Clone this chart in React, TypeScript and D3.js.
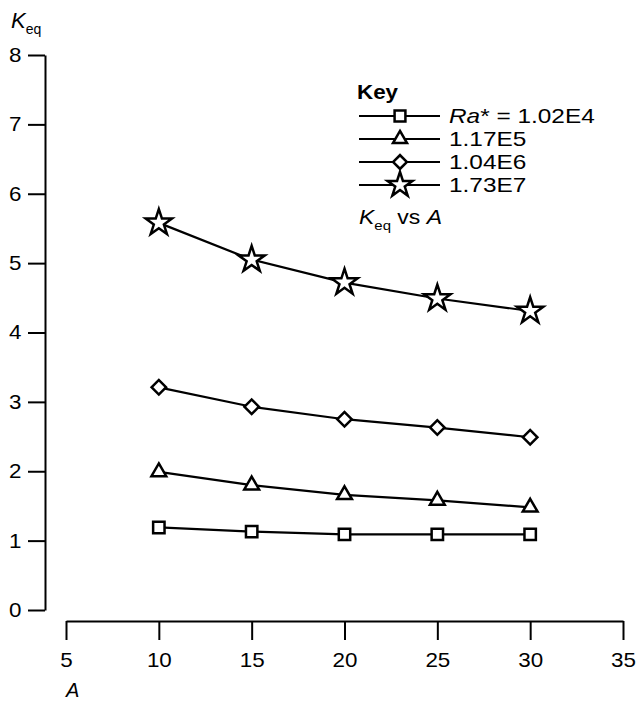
import { useEffect, useRef } from "react";
import * as d3 from "d3";

// A values on the x axis
const aValues = [10, 15, 20, 25, 30];

// Keq for each Ra*
const keqRa1 = [1.19, 1.13, 1.09, 1.09, 1.09];
const keqRa2 = [1.99, 1.8, 1.66, 1.58, 1.48];
const keqRa3 = [3.21, 2.93, 2.75, 2.63, 2.49];
const keqRa4 = [5.58, 5.05, 4.72, 4.49, 4.31];

const seriesNames = ["1.02E4", "1.17E5", "1.04E6", "1.73E7"];
const xTicks = [5, 10, 15, 20, 25, 30, 35];
const yTicks = [0, 1, 2, 3, 4, 5, 6, 7, 8];

const FONT = "'Liberation Sans', Arial, Helvetica, sans-serif";

export default function App() {
  const ref = useRef<SVGSVGElement>(null);

  useEffect(() => {
    const svg = d3.select(ref.current);
    svg.selectAll("*").remove();

    const x = d3.scaleLinear().domain([5, 35]).range([66, 623]);
    const y = d3.scaleLinear().domain([0, 8]).range([610, 55]);

    const series = [keqRa1, keqRa2, keqRa3, keqRa4].map((vals, i) => ({
      name: seriesNames[i],
      points: vals.map((v, j) => ({ a: aValues[j], k: v })),
    }));

    const markers = [
      { type: d3.symbolSquare, size: 130, rotate: 0 },
      { type: d3.symbolTriangle, size: 95, rotate: 0 },
      { type: d3.symbolSquare, size: 105, rotate: 45 },
      { type: d3.symbolStar, size: 215, rotate: 0 },
    ];

    // y axis
    const yAxis = svg
      .append("g")
      .attr("transform", "translate(45,0)")
      .call(d3.axisLeft(y).tickValues(yTicks).tickSize(17).tickSizeOuter(0).tickPadding(4));
    yAxis.select(".domain").attr("stroke-width", 2);
    yAxis.selectAll(".tick line").attr("stroke-width", 2);
    yAxis
      .selectAll("text")
      .attr("font-family", FONT)
      .attr("font-size", 20)
      .attr("fill", "#000")
      .attr("transform", "scale(1.12,1)");

    // x axis
    const xAxis = svg
      .append("g")
      .attr("transform", "translate(0,621)")
      .call(d3.axisBottom(x).tickValues(xTicks).tickSize(19).tickSizeOuter(0).tickPadding(13));
    xAxis.select(".domain").attr("stroke-width", 2);
    xAxis.selectAll(".tick line").attr("stroke-width", 2);
    xAxis
      .selectAll("text")
      .attr("font-family", FONT)
      .attr("font-size", 20)
      .attr("fill", "#000")
      .attr("transform", "scale(1.12,1)");

    // axis titles
    const yTitle = svg
      .append("text")
      .attr("x", 11)
      .attr("y", 28)
      .attr("font-family", FONT)
      .attr("font-size", 22);
    yTitle.append("tspan").attr("font-style", "italic").text("K");
    yTitle.append("tspan").attr("font-size", 14).attr("dy", 6).text("eq");

    svg
      .append("text")
      .attr("x", 66)
      .attr("y", 697)
      .attr("font-family", FONT)
      .attr("font-size", 20)
      .attr("font-style", "italic")
      .text("A");

    // lines
    const line = d3
      .line<{ a: number; k: number }>()
      .x((d) => x(d.a))
      .y((d) => y(d.k));

    series.forEach((s, i) => {
      svg
        .append("path")
        .datum(s.points)
        .attr("d", line)
        .attr("fill", "none")
        .attr("stroke", "#000")
        .attr("stroke-width", 2.2);

      svg
        .selectAll(null)
        .data(s.points)
        .join("path")
        .attr("d", d3.symbol(markers[i].type, markers[i].size)())
        .attr("transform", (d) => `translate(${x(d.a)},${y(d.k)}) rotate(${markers[i].rotate})`)
        .attr("fill", "#fff")
        .attr("stroke", "#000")
        .attr("stroke-width", 2.5);
    });

    // legend
    const legend = svg.append("g").attr("font-family", FONT);
    legend
      .append("text")
      .attr("transform", "translate(357,99) scale(1.12,1)")
      .attr("font-size", 20)
      .attr("font-weight", "bold")
      .text("Key");

    const rowY = d3.scalePoint<number>().domain([0, 1, 2, 3]).range([116, 185]);
    series.forEach((s, i) => {
      const yy = rowY(i) as number;
      legend
        .append("line")
        .attr("x1", 359)
        .attr("x2", 440)
        .attr("y1", yy)
        .attr("y2", yy)
        .attr("stroke", "#000")
        .attr("stroke-width", 2.2);
      legend
        .append("path")
        .attr("d", d3.symbol(markers[i].type, markers[i].size * 0.9)())
        .attr("transform", `translate(400,${yy}) rotate(${markers[i].rotate})`)
        .attr("fill", "#fff")
        .attr("stroke", "#000")
        .attr("stroke-width", 2.5);
      const t = legend
        .append("text")
        .attr("transform", `translate(449,${yy + 7}) scale(1.22,1)`)
        .attr("font-size", 20);
      if (i === 0) {
        t.append("tspan").attr("font-style", "italic").text("Ra");
        t.append("tspan").text("* = " + s.name);
      } else {
        t.text(s.name);
      }
    });

    const vs = legend
      .append("text")
      .attr("transform", "translate(359,224) scale(1.15,1)")
      .attr("font-size", 20);
    vs.append("tspan").attr("font-style", "italic").text("K");
    vs.append("tspan").attr("font-size", 13).attr("dy", 6).text("eq");
    vs.append("tspan").attr("dy", -6).text(" vs ");
    vs.append("tspan").attr("font-style", "italic").text("A");
  }, []);

  return (
    <svg
      ref={ref}
      width={636}
      height={705}
      style={{ position: "absolute", left: 0, top: 0, background: "#fff" }}
    />
  );
}
